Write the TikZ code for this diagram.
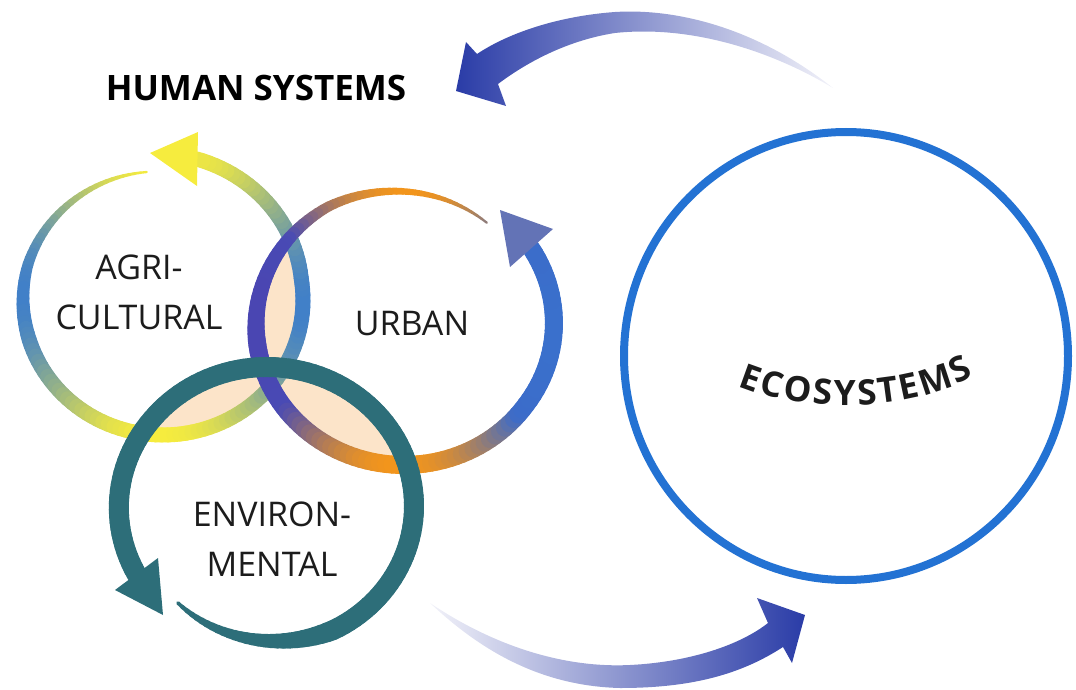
\documentclass[tikz,border=0pt]{standalone}
\usepackage{fontspec}
\setmainfont{Open Sans}
\usetikzlibrary{decorations.text}

\definecolor{agriyellow}{HTML}{F6EC3E}
\definecolor{agriblue}{HTML}{3F7FC9}
\definecolor{urbanorange}{HTML}{F2951C}
\definecolor{urbanleft}{HTML}{4A46B2}
\definecolor{urbanright}{HTML}{3A70CC}
\definecolor{urbanhead}{HTML}{6373B6}
\definecolor{envteal}{HTML}{2D6E79}
\definecolor{overlap}{HTML}{FCE4C9}
\definecolor{ecoblue}{HTML}{2372D3}
\definecolor{flowdark}{HTML}{2A3CA7}
\definecolor{flowmid}{HTML}{858CCF}
\definecolor{flowpale}{HTML}{F2F2F9}
\definecolor{labeltext}{HTML}{1C1C1C}

\tikzset{
  ringlabel/.style={font=\fontsize{34}{50}\selectfont, text=labeltext, align=center, inner sep=0pt},
  titlelabel/.style={font=\bfseries\fontsize{35}{40}\selectfont, text=black, inner sep=0pt},
}

% ring drawn as short segments, colour and width change along the way
\newcommand{\ringloop}{%
  \foreach \i in {1,...,136} {%
    \pgfmathsetmacro\ta{(\i-1)/136}%
    \pgfmathsetmacro\tb{\i/136}%
    \pgfmathsetmacro\aa{\ras+(\rae-\ras)*\ta}%
    \pgfmathsetmacro\ab{\ras+(\rae-\ras)*\tb}%
    \pgfmathsetmacro\am{(\aa+\ab)/2}%
    \pgfmathsetmacro\fa{1+(\rfs-1)*max(0,1-\ta/0.2)+(\rfe-1)*max(0,(\ta-0.8)/0.2)}%
    \pgfmathsetmacro\fb{1+(\rfs-1)*max(0,1-\tb/0.2)+(\rfe-1)*max(0,(\tb-0.8)/0.2)}%
    \pgfmathsetmacro\xa{\rcx+\rrx*\fa*cos(\aa)}%
    \pgfmathsetmacro\ya{\rcy+\rry*\fa*sin(\aa)}%
    \pgfmathsetmacro\xb{\rcx+\rrx*\fb*cos(\ab)}%
    \pgfmathsetmacro\yb{\rcy+\rry*\fb*sin(\ab)}%
    \pgfmathsetmacro\w{\rwa+(\rwb-\rwa)*min(1,\tb/\rramp)}%
    \ringcolor
    \draw[line width=\w pt, line cap=round, segcol] (\xa,\ya) -- (\xb,\yb);
  }%
}

\begin{document}
\begin{tikzpicture}[x=1pt, y=-1pt]
\useasboundingbox (0,0) rectangle (1076,690);

% overlaps of the three rings
\begin{scope}
  \clip (163,300) ellipse [x radius=140, y radius=135];
  \fill[overlap] (404,326) ellipse [x radius=148, y radius=139];
  \fill[overlap] (267,506) ellipse [x radius=147, y radius=139];
\end{scope}
\begin{scope}
  \clip (404,326) ellipse [x radius=148, y radius=139];
  \fill[overlap] (267,506) ellipse [x radius=147, y radius=139];
\end{scope}

% agricultural ring
\def\rcx{163}\def\rcy{300}\def\rrx{140}\def\rry{135}
\def\ras{263}\def\rae{-77}\def\rfs{0.955}\def\rfe{1.072}
\def\rwa{2}\def\rwb{15}\def\rramp{0.3}
\def\ringcolor{\pgfmathtruncatemacro\mix{100*cos(\am)*cos(\am)}\colorlet{segcol}{agriblue!\mix!agriyellow}}
\ringloop
\fill[agriyellow] (150,153) -- (198,132) -- (197,186) -- cycle;

% urban ring
\def\rcx{404}\def\rcy{326}\def\rrx{148}\def\rry{139}
\def\ras{307}\def\rae{-33}\def\rfs{0.93}\def\rfe{1.025}
\def\rwa{2}\def\rwb{18}\def\rramp{0.4}
\def\ringcolor{\pgfmathtruncatemacro\mix{min(100,160*cos(\am)*cos(\am))}\pgfmathtruncatemacro\side{50+50*cos(\am)}\colorlet{segside}{urbanright!\side!urbanleft}\colorlet{segcol}{segside!\mix!urbanorange}}
\ringloop
\fill[urbanhead] (500,210) -- (510,267) -- (553,229) -- cycle;

% environmental ring
\def\rcx{267}\def\rcy{506}\def\rrx{147}\def\rry{139}
\def\ras{131}\def\rae{-209}\def\rfs{0.924}\def\rfe{1.014}
\def\rwa{3}\def\rwb{20}\def\rramp{0.2}
\def\ringcolor{\colorlet{segcol}{envteal}}
\ringloop
\fill[envteal] (163,615) -- (115,590) -- (158,558) -- cycle;

% ecosystems ring
\draw[ecoblue, line width=8pt] (846,356) ellipse [x radius=222, y radius=224];

% flow back to the human systems
\shade[left color=flowdark, middle color=flowmid, right color=flowpale]
  (833,88) .. controls (760,30) and (680,8) .. (615,12)
  .. controls (560,16) and (510,32) .. (477,54)
  -- (466,42) -- (456,91) -- (506,106) -- (498,84)
  .. controls (530,60) and (570,40) .. (615,33)
  .. controls (690,25) and (770,50) .. (833,88) -- cycle;

% flow out to the ecosystems
\shade[left color=flowpale, middle color=flowmid, right color=flowdark]
  (430,603) .. controls (500,650) and (570,668) .. (630,665)
  .. controls (690,662) and (740,645) .. (768,623)
  -- (757,598) -- (805,615) -- (792,663) -- (783,647)
  .. controls (740,675) and (690,688) .. (620,688)
  .. controls (540,686) and (480,650) .. (430,603) -- cycle;

% labels
\node[titlelabel] (human) at (256,88) {HUMAN SYSTEMS};
\node[ringlabel] (agri) at (139,292) {AGRI-\\CULTURAL};
\node[ringlabel] (urban) at (412,323) {URBAN};
\node[ringlabel] (envir) at (272,539) {ENVIRON-\\MENTAL};
\path[decorate, decoration={text along path, text align=fit to path,
    text={|\bfseries\fontsize{35}{40}\selectfont\color{labeltext}|ECOSYSTEMS}}]
  (738,386) .. controls (800,412) and (905,414) .. (974,376);
\end{tikzpicture}
\end{document}
